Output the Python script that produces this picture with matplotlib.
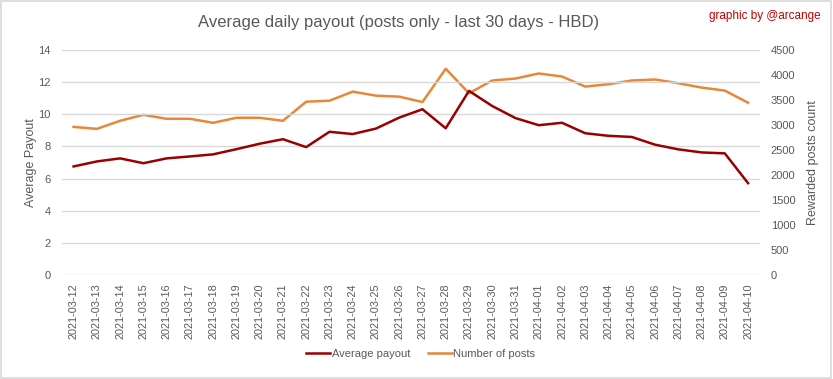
import matplotlib
matplotlib.use("Agg")
import matplotlib.pyplot as plt
from matplotlib.patches import Rectangle

dates = ["2021-03-12", "2021-03-13", "2021-03-14", "2021-03-15", "2021-03-16", "2021-03-17",
         "2021-03-18", "2021-03-19", "2021-03-20", "2021-03-21", "2021-03-22", "2021-03-23",
         "2021-03-24", "2021-03-25", "2021-03-26", "2021-03-27", "2021-03-28", "2021-03-29",
         "2021-03-30", "2021-03-31", "2021-04-01", "2021-04-02", "2021-04-03", "2021-04-04",
         "2021-04-05", "2021-04-06", "2021-04-07", "2021-04-08", "2021-04-09", "2021-04-10"]
avg_payout = [6.75, 7.06, 7.25, 6.95, 7.25, 7.37, 7.5, 7.82, 8.16, 8.44, 7.95, 8.9,
              8.76, 9.1, 9.78, 10.3, 9.12, 11.44, 10.5, 9.75, 9.31, 9.46, 8.81, 8.65,
              8.58, 8.1, 7.81, 7.62, 7.56, 5.71]
num_posts = [2959, 2919, 3080, 3200, 3120, 3120, 3040, 3140, 3140, 3080, 3461, 3481,
             3662, 3582, 3562, 3455, 4118, 3630, 3884, 3924, 4024, 3964, 3763, 3810,
             3884, 3904, 3830, 3743, 3683, 3441]

plt.rcParams['font.family'] = ['Liberation Sans', 'DejaVu Sans']
grey = "#595959"
red = "#990000"
orange = "#E8873A"

fig = plt.figure(figsize=(8.33, 3.79), dpi=100)
fig.patches.append(Rectangle((0.001, 0.002), 0.997, 0.995, transform=fig.transFigure,
                             fill=False, edgecolor="#d9d9d9", linewidth=1.2))
ax = fig.add_axes([0.0744, 0.274, 0.8376, 0.595])
x = list(range(len(dates)))
l1, = ax.plot(x, avg_payout, color=red, linewidth=1.8, label="Average payout")
ax.set_ylim(0, 14)
ax.set_yticks(range(0, 15, 2))
ax.set_xlim(-0.5, len(dates) - 0.5)
ax.set_xticks(x)
ax.set_xticklabels(dates, rotation=90, fontsize=7.8, color=grey)
ax.grid(axis='y', color="#d9d9d9", linewidth=1)
ax.set_axisbelow(True)
for s in ax.spines.values():
    s.set_visible(False)
ax.tick_params(axis='y', length=0, colors=grey, labelsize=8, pad=8)
ax.tick_params(axis='x', length=0, colors=grey, pad=6)
ax.set_ylabel("Average Payout", color=grey, fontsize=9, labelpad=1)

ax2 = ax.twinx()
l2, = ax2.plot(x, num_posts, color=orange, linewidth=1.8, label="Number of posts")
ax2.set_ylim(0, 4500)
ax2.set_yticks(range(0, 4501, 500))
for s in ax2.spines.values():
    s.set_visible(False)
ax2.tick_params(axis='y', length=0, colors=grey, labelsize=8, pad=8)
ax2.set_ylabel("Rewarded posts count", color=grey, fontsize=9, labelpad=8)
ax.set_zorder(ax2.get_zorder() + 1)
ax.patch.set_visible(False)

fig.text(0.478, 0.94, "Average daily payout (posts only - last 30 days - HBD)",
         ha='center', va='center', fontsize=12, color=grey)
fig.text(0.985, 0.958, "graphic by @arcange", ha='right', va='center', fontsize=8.5, color="#c00000")
fig.legend(handles=[l1, l2], loc='center', bbox_to_anchor=(0.505, 0.066), ncol=2,
           frameon=False, fontsize=8, labelcolor=grey, handlelength=2.2, columnspacing=1.6,
           handletextpad=0.1)

fig.savefig("out.png", dpi=100)
